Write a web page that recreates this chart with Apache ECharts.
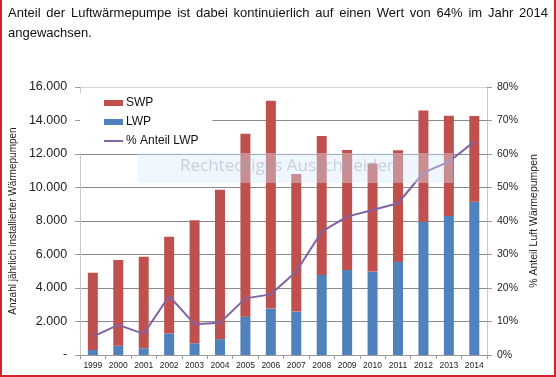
<!DOCTYPE html>
<html>
<head>
<meta charset="utf-8">
<script src="https://cdn.jsdelivr.net/npm/echarts@6/dist/echarts.min.js"></script>
<style>
  html, body { margin: 0; padding: 0; background: #fff; }
  .frame {
    position: relative;
    width: 556px;
    height: 377px;
    box-sizing: border-box;
    border-left: 2px solid #d8212a;
    border-right: 2px solid #d8212a;
    border-bottom: 2px solid #d8212a;
    overflow: hidden;
  }
  .intro {
    position: absolute;
    left: 6px;
    top: 3px;
    width: 540px;
    font-family: "Liberation Sans", Arial, sans-serif;
    font-size: 13px;
    line-height: 20px;
    color: #111;
    text-align: justify;
    text-align-last: left;
    z-index: 2;
  }
  #chart { position: absolute; left: -2px; top: 0; width: 556px; height: 377px; }
</style>
</head>
<body>
<div class="frame">
  <div class="intro">Anteil der Luftwärmepumpe ist dabei kontinuierlich auf einen Wert von 64% im Jahr 2014 angewachsen.</div>
  <div id="chart"></div>
</div>
<script>
// Jahre (x-Achse)
const years = ['1999', '2000', '2001', '2002', '2003', '2004', '2005', '2006',
  '2007', '2008', '2009', '2010', '2011', '2012', '2013', '2014']
// Luftwärmepumpen (unten, blau)
const lwp = [300, 550, 400, 1280, 700, 950, 2290, 2770, 2590, 4780, 5080, 4980, 5550, 7960, 8300, 9150]
// sonstige Wärmepumpen (oben, rot)
const swp = [4610, 5120, 5470, 5780, 7340, 8920, 10920, 12410, 8220, 8300, 7160, 6460, 6670, 6630, 5990, 5120]
// Anteil LWP in %
const shareLwp = [5.5, 9, 6.3, 17.6, 9.2, 9.6, 16.9, 18.1, 24.9, 36.8, 41.3, 43.3, 45.3, 54.4, 57.7, 63.7]

const font = '"Liberation Sans", Arial, sans-serif'

// Tausender mit Punkt, 0 als "-"
function fmtCount (v) {
  if (v === 0) return '-'
  return String(v).replace(/\B(?=(\d{3})+(?!\d))/g, '.')
}

const chart = echarts.init(document.getElementById('chart'))

const opt = {
  animation: false,
  textStyle: { fontFamily: font },
  grid: { left: 80, right: 69, top: 87, bottom: 22 },
  legend: {
    orient: 'vertical',
    left: 80,
    top: 93,
    padding: [4, 14, 6, 23],
    backgroundColor: '#fff',
    itemGap: 7,
    itemWidth: 19,
    itemHeight: 6,
    textStyle: { fontFamily: font, fontSize: 12, color: '#111', padding: [0, 0, 0, -2] },
    data: [
      { name: 'SWP', icon: 'rect' },
      { name: 'LWP', icon: 'rect' },
      {
        name: '% Anteil LWP',
        itemStyle: { color: 'transparent', borderWidth: 0, opacity: 0 },
        lineStyle: { color: '#8064a2', width: 2 }
      }
    ]
  },
  xAxis: {
    type: 'category',
    data: years,
    axisLine: { lineStyle: { color: '#9a9a9a' } },
    axisTick: { show: true, length: 4, lineStyle: { color: '#9a9a9a' } },
    axisLabel: { fontSize: 8.5, color: '#222', margin: 6, interval: 0 }
  },
  yAxis: [
    {
      type: 'value',
      min: 0,
      max: 16000,
      interval: 2000,
      name: 'Anzahl jährlich installierter Wärmepumpen',
      nameLocation: 'middle',
      nameGap: 51,
      nameRotate: 90,
      nameTextStyle: { fontSize: 10, color: '#222' },
      axisLine: { show: true, lineStyle: { color: '#c8c8c8' } },
      axisTick: { show: true, length: 5, lineStyle: { color: '#9a9a9a' } },
      axisLabel: { fontSize: 12.5, color: '#222', margin: 13, formatter: fmtCount },
      splitLine: {
        lineStyle: {
          color: ['#9a9a9a', '#8a8a8a', '#8a8a8a', '#8a8a8a', '#8a8a8a', '#8a8a8a', '#8a8a8a', '#8a8a8a', '#d4d4d4']
        }
      }
    },
    {
      type: 'value',
      min: 0,
      max: 80,
      interval: 10,
      position: 'right',
      name: '% Anteil Luft Wärmepumpen',
      nameLocation: 'middle',
      nameGap: 32,
      nameRotate: 90,
      nameTextStyle: { fontSize: 10.5, color: '#222' },
      axisLine: { show: true, lineStyle: { color: '#c8c8c8' } },
      axisTick: { show: true, length: 5, lineStyle: { color: '#9a9a9a' } },
      axisLabel: { fontSize: 10.5, color: '#222', margin: 10, formatter: '{value}%' },
      splitLine: { show: false }
    }
  ],
  series: [
    {
      name: 'LWP',
      type: 'bar',
      stack: 'wp',
      barWidth: 10,
      itemStyle: { color: '#4f81bd' },
      data: lwp
    },
    {
      name: 'SWP',
      type: 'bar',
      stack: 'wp',
      barWidth: 10,
      itemStyle: { color: '#c0504d' },
      data: swp
    },
    {
      name: '% Anteil LWP',
      type: 'line',
      yAxisIndex: 1,
      symbol: 'none',
      lineStyle: { color: '#8064a2', width: 2 },
      itemStyle: { color: '#8064a2' },
      data: shareLwp
    }
  ],
  // Bildschirm-Overlay "Rechteckiges Ausschneiden"
  graphic: [
    {
      type: 'rect',
      z: 100,
      shape: { x: 138, y: 153, width: 315, height: 30 },
      style: { fill: 'rgba(215,232,250,0.4)' }
    },
    {
      type: 'text',
      z: 101,
      left: 180,
      top: 158,
      style: {
        text: 'Rechteckiges Ausschneiden',
        font: '17px "Open Sans", "Liberation Sans", sans-serif',
        fill: 'rgba(150,165,180,0.45)'
      }
    }
  ]
}

chart.setOption(opt)
</script>
</body>
</html>
